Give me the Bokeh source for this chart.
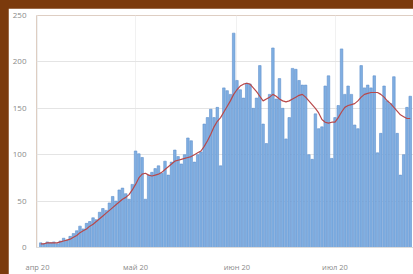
import pandas as pd
from bokeh.plotting import figure
from bokeh.models import ColumnDataSource, Range1d, FixedTicker, GlobalInlineStyleSheet
from bokeh.embed import file_html
from bokeh.resources import INLINE

# Daily values, starting 2020-04-02
start_date = "2020-04-02"
cases = [5, 4, 6, 5, 6, 4, 7, 10, 8, 12,
         15, 18, 23, 20, 26, 28, 32, 30, 38, 42,
         40, 48, 55, 50, 62, 64, 58, 52, 68, 104,
         101, 97, 52, 78, 81, 85, 88, 80, 93, 78,
         92, 105, 98, 90, 100, 118, 115, 92, 100, 103,
         133, 140, 149, 140, 151, 88, 172, 169, 165, 231,
         180, 170, 161, 177, 176, 150, 161, 196, 133, 112,
         165, 215, 160, 182, 150, 117, 140, 193, 192, 180,
         175, 175, 100, 95, 144, 128, 130, 174, 185, 96,
         140, 153, 214, 165, 174, 165, 132, 128, 196, 172,
         175, 172, 185, 102, 123, 174, 158, 155, 184, 123,
         78, 100, 151, 163]

# Smoothed line
trend = [4, 4, 5, 5, 5, 5, 6,
         7, 8, 9, 11, 13, 16, 18,
         20, 23, 25, 28, 31, 34, 37,
         40, 43, 46, 49, 52, 54, 57,
         62, 68, 75, 79, 80, 78, 77,
         78, 79, 81, 84, 87, 90, 93,
         94, 95, 96, 97, 98, 100, 102,
         104, 109, 115, 122, 130, 136, 140,
         146, 152, 158, 165, 170, 174, 176,
         177, 176, 172, 168, 163, 158, 160,
         162, 165, 163, 160, 158, 157, 158,
         160, 162, 164, 165, 162, 158, 154,
         150, 145, 138, 135, 134, 135, 135,
         140, 146, 151, 153, 154, 155, 158,
         162, 165, 166, 167, 167, 167, 165,
         162, 158, 155, 151, 147, 143, 141,
         139, 139]

month_starts = ["2020-04-01", "2020-05-01", "2020-06-01", "2020-07-01"]
month_labels = ["апр 20", "май 20", "июн 20", "июл 20"]
y_ticks = [0, 50, 100, 150, 200, 250]

dates = pd.date_range(start_date, periods=len(cases), freq="D")
src = ColumnDataSource(dict(date=dates, cases=cases, trend=trend))

DAY = 86400000
tick_ms = [pd.Timestamp(m).value // 10**6 for m in month_starts]
x0 = tick_ms[0] - 0.3 * DAY
x1 = x0 + 115.3 * DAY

p = figure(width=405, height=266, x_axis_type="datetime",
           x_range=Range1d(x0, x1), y_range=Range1d(0, 250),
           output_backend="svg", toolbar_location=None,
           min_border_left=28, min_border_right=0,
           min_border_top=7, min_border_bottom=19,
           border_fill_color="white", background_fill_color="white")
p.outline_line_color = None

p.vbar(x="date", top="cases", width=0.78 * DAY, source=src,
       fill_color="#80afe2", line_color="#5f90cc", line_width=0.6)
p.line(x="date", y="trend", source=src, line_color="#b8484a", line_width=1.2)

p.xaxis.ticker = FixedTicker(ticks=tick_ms)
p.xaxis.major_label_overrides = {t: l for t, l in zip(tick_ms, month_labels)}
p.yaxis.ticker = FixedTicker(ticks=y_ticks)
p.xgrid.ticker = FixedTicker(ticks=tick_ms)

for ax in (p.xaxis[0], p.yaxis[0]):
    ax.major_tick_line_color = None
    ax.minor_tick_line_color = None
    ax.major_label_text_font = "Open Sans"
    ax.major_label_text_font_size = "7.5px"
    ax.major_label_text_color = "#8a8a8a"
p.yaxis.major_label_text_font_size = "8px"
p.yaxis.axis_line_color = None
p.xaxis.axis_line_color = "#dcdcdc"
p.yaxis.major_label_standoff = 4
p.xaxis.major_label_standoff = 8

p.ygrid.grid_line_color = "#e4e4e4"
p.xgrid.grid_line_color = "#f1f1f1"

p.stylesheets = [GlobalInlineStyleSheet(
    css="html,body{background:#7b3a0c;overflow:hidden;} body{margin:8px 0 0 8px;}")]
p.styles = {"box-shadow": "-2px -1px 0 #4a1f06"}

open("out.html", "w").write(file_html(p, INLINE))
